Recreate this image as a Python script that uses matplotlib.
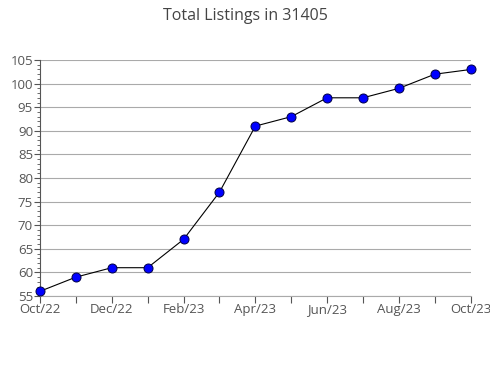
import matplotlib.pyplot as plt
from matplotlib.ticker import MultipleLocator

plt.rcParams["font.family"] = ["Open Sans", "DejaVu Sans"]

months = ["Oct/22", "Nov/22", "Dec/22", "Jan/23", "Feb/23", "Mar/23", "Apr/23",
          "May/23", "Jun/23", "Jul/23", "Aug/23", "Sep/23", "Oct/23"]
listings = [56, 59, 61, 61, 67, 77, 91, 93, 97, 97, 99, 102, 103]

fig = plt.figure(figsize=(4.9, 3.8), dpi=100)
ax = fig.add_axes([0.0816, 0.221, 0.879, 0.621])

x = list(range(len(months)))
ax.plot(x, listings, color="black", lw=0.8, marker="o", ms=6.5,
        mfc="#0000ff", mec="#000044", mew=0.7, zorder=3, clip_on=False)

ax.set_xlim(0, len(months) - 1)
ax.set_ylim(55, 105)
ax.set_xticks(x)
ax.set_xticklabels([m if i % 2 == 0 else "" for i, m in enumerate(months)])
ax.yaxis.set_major_locator(MultipleLocator(5))
ax.yaxis.set_minor_locator(MultipleLocator(1))
ax.grid(axis="y", color="#aaaaaa", lw=0.8)
ax.set_axisbelow(True)

for s in ["top", "right"]:
    ax.spines[s].set_visible(False)
ax.spines["left"].set_color("#555555")
ax.spines["left"].set_linewidth(0.8)
ax.spines["bottom"].set_color("#aaaaaa")
ax.spines["bottom"].set_linewidth(0.8)
ax.tick_params(axis="y", which="major", length=4, color="#555555", labelsize=9.5,
               labelcolor="#555555", pad=1)
ax.tick_params(axis="y", which="minor", length=2, color="#555555")
ax.tick_params(axis="x", length=5, color="#555555", labelsize=9.5,
               labelcolor="#555555", pad=0)

fig.suptitle("Total Listings in 31405", y=0.98, fontsize=11.5, color="#444444")
fig.savefig("out.png", dpi=100)
